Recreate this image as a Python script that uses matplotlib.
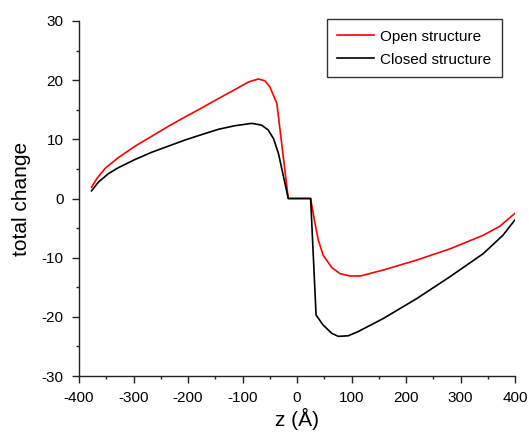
import matplotlib
matplotlib.use("Agg")
import matplotlib.pyplot as plt
from matplotlib.ticker import MultipleLocator

plt.rcParams['font.family'] = ['Liberation Sans', 'DejaVu Sans']
plt.rcParams['axes.unicode_minus'] = False

z_open = [-377, -367, -352, -328, -297, -267, -236, -205, -175, -144, -114, -89, -71, -59, -50, -37, -16,
          25, 27, 33, 39, 48, 64, 79, 97, 116, 158, 220, 281, 342, 372, 400]
y_open = [1.9, 3.4, 5.1, 6.9, 8.85, 10.5, 12.2, 13.8, 15.3, 16.9, 18.4, 19.7, 20.2, 19.9, 18.9, 16.1, 0,
          0, -1.1, -4.2, -7.0, -9.6, -11.7, -12.7, -13.1, -13.1, -12.1, -10.4, -8.5, -6.2, -4.7, -2.5]

z_closed = [-377, -364, -346, -328, -297, -267, -236, -205, -175, -144, -114, -83, -65, -53, -43, -34, -16,
            25, 35, 48, 64, 76, 94, 112, 158, 220, 281, 342, 378, 400]
y_closed = [1.3, 2.8, 4.2, 5.2, 6.6, 7.8, 8.85, 9.9, 10.8, 11.7, 12.3, 12.7, 12.4, 11.6, 10.1, 7.6, 0,
            0, -19.7, -21.4, -22.8, -23.3, -23.2, -22.5, -20.3, -16.9, -13.2, -9.3, -6.2, -3.6]

labels = ["Open structure", "Closed structure"]

fig = plt.figure(figsize=(5.29, 4.33), dpi=100)
ax = fig.add_axes([79/529, 57/433, 436/529, 355/433])

ax.plot(z_open, y_open, color='#ff0000', lw=1.2, label=labels[0])
ax.plot(z_closed, y_closed, color='black', lw=1.2, label=labels[1])

ax.set_xlim(-400, 400)
ax.set_ylim(-30, 30)
ax.xaxis.set_major_locator(MultipleLocator(100))
ax.xaxis.set_minor_locator(MultipleLocator(50))
ax.yaxis.set_major_locator(MultipleLocator(10))
ax.yaxis.set_minor_locator(MultipleLocator(5))

for s in ['top', 'right']:
    ax.spines[s].set_visible(False)
for s in ['left', 'bottom']:
    ax.spines[s].set_color('#222222')
    ax.spines[s].set_linewidth(1.0)

ax.tick_params(which='major', direction='out', length=5, width=1.0, labelsize=11, color='#222222', pad=6)
ax.tick_params(which='minor', direction='out', length=2.3, width=1.0, color='#222222')

ax.set_xlabel("z (Å)", fontsize=15, labelpad=2)
ax.set_ylabel("total change", fontsize=15, labelpad=8)

leg = ax.legend(loc='upper right', bbox_to_anchor=(0.970, 1.006), borderaxespad=0,
                fontsize=11, frameon=True, fancybox=False, handlelength=2.4,
                handletextpad=0.4, labelspacing=0.6, borderpad=0.7)
leg.get_frame().set_edgecolor('black')
leg.get_frame().set_linewidth(1.0)

fig.savefig("out.png", dpi=100)
